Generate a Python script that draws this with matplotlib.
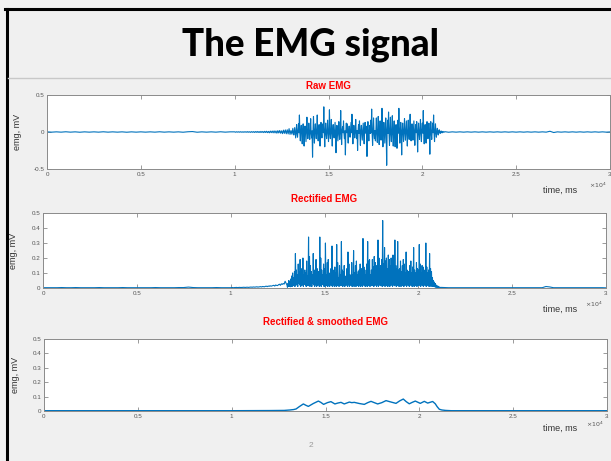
import numpy as np
import matplotlib
matplotlib.use("Agg")
import matplotlib.pyplot as plt
from matplotlib.lines import Line2D

# ---------------- data ----------------
# quiet baseline, 0 .. 9750 ms, step 250 ms
quiet_start, quiet_step = 0, 250
quiet_vals = [0.002, -0.002, 0.002, -0.002, 0.003, -0.002, 0.002, -0.003, 0.002, -0.002,
              0.002, -0.002, 0.003, -0.002, 0.002, -0.002, 0.002, -0.003, 0.002, -0.002,
              0.002, -0.002, 0.002, -0.002, 0.003, -0.002, 0.002, -0.002, 0.002, -0.003,
              0.003, 0.006, -0.003, 0.002, -0.002, 0.002, -0.002, 0.003, -0.002, 0.002]

# pre-activation, 10000 .. 12950 ms, step 50 ms
pre_start, pre_step = 10000, 50
pre_vals = [0.002, -0.003, 0.003, -0.002, 0.003, -0.003, 0.004, -0.003, 0.003, -0.004,
            0.004, -0.003, 0.004, -0.004, 0.005, -0.004, 0.004, -0.005, 0.005, -0.004,
            0.005, -0.006, 0.006, -0.005, 0.007, -0.006, 0.006, -0.007, 0.008, -0.006,
            0.007, -0.008, 0.009, -0.007, 0.010, -0.009, 0.008, -0.011, 0.012, -0.009,
            0.013, -0.011, 0.015, -0.012, 0.014, -0.016, 0.018, -0.013, 0.020, -0.017,
            0.016, -0.022, 0.025, -0.018, 0.028, -0.024, 0.030, -0.026, 0.045, -0.032]

# muscle activity, 13000 .. 21175 ms, step 25 ms
act_start, act_step = 13000, 25
act_vals = [
    0.02, -0.005, -0.03, 0.01, 0.05, -0.01, -0.04, 0.008, 0.06, -0.012, -0.08, 0.01, 0.10, -0.02, -0.07, 0.015, 0.11, -0.01, 0.23, -0.02,
    -0.12, 0.02, 0.09, -0.01, -0.16, 0.03, 0.11, -0.02, -0.19, 0.01, 0.08, -0.015, -0.13, 0.02, 0.20, -0.01, -0.09, 0.025, 0.12, -0.02,
    -0.10, 0.01, 0.18, -0.02, -0.08, 0.015, -0.34, 0.02, 0.21, -0.01, -0.15, 0.02, 0.11, -0.01, -0.09, 0.03, 0.23, -0.02, -0.12, 0.01,
    0.10, -0.02, -0.19, 0.01, 0.13, -0.015, -0.08, 0.02, 0.11, -0.01, 0.34, -0.02, -0.20, 0.01, 0.12, -0.025, -0.09, 0.02, 0.16, -0.01,
    -0.13, 0.01, 0.30, -0.02, -0.09, 0.015, 0.17, -0.01, -0.19, 0.02, 0.10, -0.01, -0.08, 0.02, 0.13, -0.015, -0.28, 0.01, 0.09, -0.02,
    -0.12, 0.01, 0.14, -0.02, -0.10, 0.01, 0.29, -0.015, -0.17, 0.02, 0.07, -0.01, 0.15, -0.02, -0.09, 0.015, -0.31, 0.02, 0.12, -0.01,
    0.11, -0.02, -0.15, 0.01, 0.08, -0.015, -0.07, 0.02, 0.13, -0.01, 0.24, -0.02, -0.16, 0.01, 0.09, -0.02, -0.08, 0.015, 0.17, -0.01,
    -0.09, 0.02, -0.25, 0.01, 0.10, -0.02, 0.15, -0.01, -0.18, 0.015, 0.09, -0.02, -0.11, 0.01, 0.12, -0.02, -0.16, 0.01, 0.13, -0.015,
    0.08, -0.01, -0.33, 0.02, 0.14, -0.015, -0.12, 0.01, 0.09, -0.02, 0.16, -0.01, 0.31, -0.02, -0.18, 0.015, 0.19, -0.01, -0.09, 0.02,
    -0.12, 0.015, 0.19, -0.02, -0.14, 0.01, 0.21, -0.015, -0.17, 0.02, 0.15, -0.01, -0.11, 0.02, 0.32, -0.01, -0.20, 0.02, 0.13, -0.015,
    -0.15, 0.02, 0.19, -0.01, -0.45, 0.015, 0.16, -0.02, 0.27, -0.01, -0.18, 0.02, 0.20, -0.015, -0.13, 0.01, 0.22, -0.02, -0.19, 0.01,
    0.15, -0.015, -0.20, 0.02, 0.10, -0.01, -0.22, 0.02, 0.16, -0.015, 0.32, -0.02, -0.15, 0.01, 0.13, -0.02, -0.31, 0.015, 0.12, -0.01,
    -0.13, 0.02, 0.18, -0.01, -0.11, 0.015, 0.15, -0.02, -0.19, 0.01, 0.16, -0.015, -0.10, 0.02, 0.24, -0.01, -0.12, 0.02, 0.11, -0.015,
    -0.11, 0.01, 0.15, -0.02, -0.18, 0.015, 0.10, -0.01, 0.14, -0.02, -0.27, 0.01, 0.12, -0.015, -0.10, 0.02, 0.17, -0.01, -0.13, 0.02,
    0.12, -0.015, 0.29, -0.02, -0.16, 0.01, 0.10, -0.02, -0.15, 0.015, 0.14, -0.01, -0.09, 0.02, 0.12, -0.015, -0.30, 0.01, 0.14, -0.02,
    -0.10, 0.015, 0.12, -0.01, 0.23, -0.02, -0.13, 0.01, 0.11, -0.015, -0.07, 0.01, 0.05, -0.01, -0.04, 0.008, 0.03, -0.005, -0.02, 0.005,
    0.015, -0.004, -0.012, 0.003, 0.008, -0.002, -0.005, 0.001]

# after activity, 21200 .. 30000 ms, step 200 ms
post_start, post_step = 21200, 200
post_vals = [0.004, -0.003, 0.002, -0.002, 0.002, -0.002, 0.002, -0.002, 0.002, -0.002,
             0.002, -0.002, 0.002, -0.002, 0.002, -0.002, 0.002, -0.002, 0.002, -0.002,
             0.002, -0.002, 0.002, -0.002, 0.002, -0.002, 0.002, -0.002, 0.010, -0.007,
             0.002, -0.002, 0.002, -0.002, 0.002, -0.002, 0.002, -0.002, 0.002, -0.002,
             0.002, -0.002, 0.002, -0.002, 0.001]

# rectified & smoothed envelope
smooth_t = [0, 10000, 12000, 12800, 13100, 13300, 13430, 13600, 13820, 13950, 14085, 14350,
            14620, 14750, 14900, 15100, 15290, 15500, 15650, 15825, 16000, 16270, 16400, 16535,
            16800, 17068, 17250, 17424, 17600, 17780, 18000, 18225, 18500, 18757, 18950, 19145,
            19300, 19465, 19620, 19785, 20050, 20265, 20445, 20710, 20850, 20950, 21065, 21200,
            21400, 21700, 30000]
smooth_v = [0.002, 0.002, 0.003, 0.004, 0.007, 0.010, 0.014, 0.030, 0.049, 0.040, 0.032, 0.052,
            0.069, 0.060, 0.046, 0.058, 0.065, 0.049, 0.055, 0.060, 0.049, 0.062, 0.058, 0.060,
            0.052, 0.046, 0.058, 0.067, 0.058, 0.049, 0.058, 0.072, 0.062, 0.053, 0.070, 0.083,
            0.065, 0.050, 0.060, 0.069, 0.053, 0.067, 0.055, 0.066, 0.050, 0.030, 0.012, 0.007,
            0.004, 0.002, 0.002]

xtick_vals = [0, 5000, 10000, 15000, 20000, 25000, 30000]
xtick_labels = ["0", "0.5", "1", "1.5", "2", "2.5", "3"]
ytick_raw = [-0.5, 0, 0.5]
ytick_raw_labels = ["-0.5", "0", "0.5"]
ytick_rect = [0, 0.1, 0.2, 0.3, 0.4, 0.5]
ytick_rect_labels = ["0", "0.1", "0.2", "0.3", "0.4", "0.5"]

titles = ["Raw EMG", "Rectified EMG", "Rectified & smoothed EMG"]
slide_title = "The EMG signal"
ylabel = "emg, mV"
xlabel = "time, ms"
page_no = "2"

# ---------------- build signal ----------------
def seg(start, step, vals):
    return start + step * np.arange(len(vals))

t_raw = np.concatenate([seg(quiet_start, quiet_step, quiet_vals),
                        seg(pre_start, pre_step, pre_vals),
                        seg(act_start, act_step, act_vals),
                        seg(post_start, post_step, post_vals)])
raw = np.concatenate([quiet_vals, pre_vals, act_vals, post_vals])
rect = np.abs(raw)

# ---------------- figure ----------------
W, H = 611, 461
fig = plt.figure(figsize=(W / 100, H / 100), dpi=100)
fig.patch.set_facecolor("#f0f0f0")

def fx(px):
    return px / W

def fy(py):
    return 1 - py / H

# slide frame
fig.add_artist(Line2D([fx(5), fx(611)], [fy(9), fy(9)], color="black", lw=2.2, transform=fig.transFigure))
fig.add_artist(Line2D([fx(6.5), fx(6.5)], [fy(9), fy(461)], color="black", lw=2.2, transform=fig.transFigure))
fig.add_artist(Line2D([fx(8), fx(611)], [fy(78), fy(78)], color="#c8c8c8", lw=1.0, transform=fig.transFigure))

fig.text(fx(311), fy(45), slide_title, ha="center", va="center", fontsize=26.5,
         fontweight="black", family=["Lato", "DejaVu Sans"], color="black")
fig.text(fx(311), fy(445), page_no, ha="center", va="center", fontsize=6,
         color="#9a9a9a", family="Liberation Sans")

blue = "#0072BD"
FONT = "Liberation Sans"

boxes = [(47, 610, 95, 169), (43, 606, 213, 288), (44, 607, 339, 411)]
title_y = [86, 199, 322]
ylab_x = [18, 14, 16]
xlab_y = [190, 309, 428]
mult_y = [185, 304, 424]

axes = []
for i, (l, r, t, b) in enumerate(boxes):
    ax = fig.add_axes([fx(l), fy(b), (r - l) / W, (b - t) / H])
    ax.set_facecolor("white")
    for sp in ax.spines.values():
        sp.set_color("#8a8a8a")
        sp.set_linewidth(0.7)
    ax.tick_params(direction="in", length=3, width=0.6, colors="#8a8a8a",
                   labelcolor="#555555", labelsize=4.5, top=True, right=True, pad=2)
    ax.set_xlim(xtick_vals[0], xtick_vals[-1])
    ax.set_xticks(xtick_vals)
    ax.set_xticklabels(xtick_labels, family=FONT)
    fig.text(fx((l + r) / 2), fy(title_y[i]), titles[i], ha="center", va="center",
             color="red", fontsize=7, fontweight="bold", family=FONT)
    fig.text(fx(ylab_x[i]), fy((t + b) / 2), ylabel, ha="center", va="center",
             rotation=90, fontsize=6.5, color="#333333", family=FONT)
    fig.text(fx(560), fy(xlab_y[i]), xlabel, ha="center", va="center",
             fontsize=6.5, color="#333333", family=FONT)
    fig.text(fx(r - 12), fy(mult_y[i]), r"$\times10^{4}$", ha="center", va="center",
             fontsize=4.5, color="#555555")
    axes.append(ax)

ax1, ax2, ax3 = axes
ax1.plot(t_raw, raw, color=blue, lw=0.8)
ax1.set_ylim(-0.5, 0.5)
ax1.set_yticks(ytick_raw)
ax1.set_yticklabels(ytick_raw_labels, family=FONT)

ax2.plot(t_raw, rect, color=blue, lw=0.8)
ax2.set_ylim(0, 0.5)
ax2.set_yticks(ytick_rect)
ax2.set_yticklabels(ytick_rect_labels, family=FONT)

ax3.plot(smooth_t, smooth_v, color=blue, lw=1.0)
ax3.set_ylim(0, 0.5)
ax3.set_yticks(ytick_rect)
ax3.set_yticklabels(ytick_rect_labels, family=FONT)

fig.savefig("out.png", dpi=100, facecolor=fig.get_facecolor())
